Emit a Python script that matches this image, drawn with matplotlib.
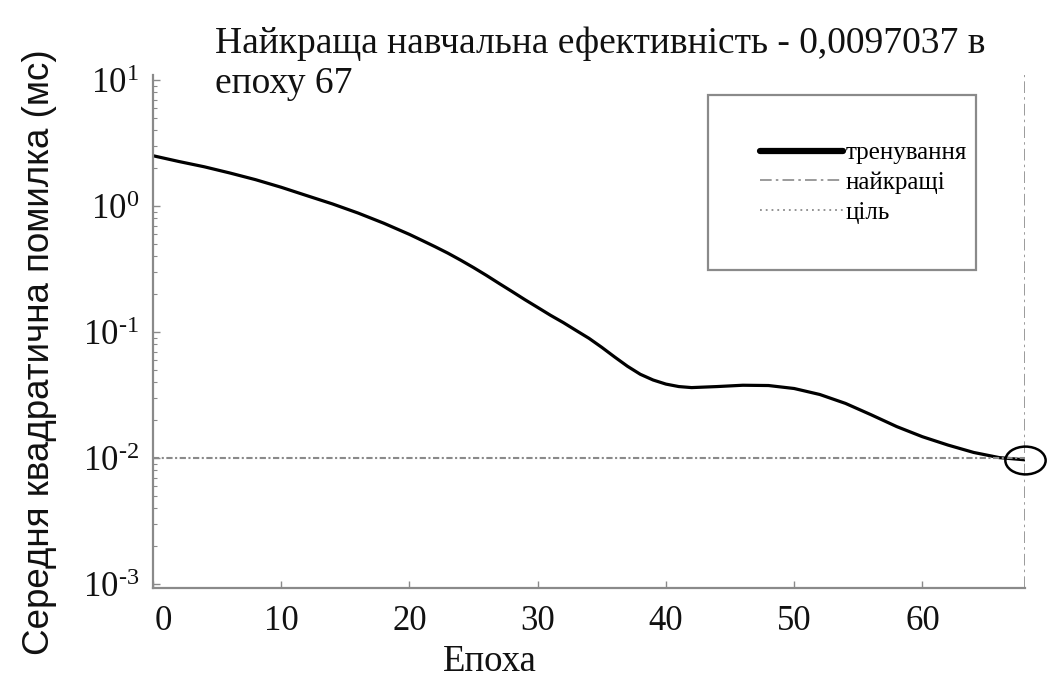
import matplotlib
matplotlib.use("Agg")
import matplotlib.pyplot as plt
from matplotlib.patches import Rectangle
from matplotlib.path import Path
from matplotlib.transforms import Affine2D, ScaledTranslation
from matplotlib.ticker import FixedLocator, FixedFormatter, LogLocator, NullFormatter

# ---- data ----
epochs = [0, 2, 4, 6, 8, 10, 12, 14, 16, 18, 20, 21, 22, 23, 24, 25, 26, 27,
          28, 29, 30, 31, 32, 33, 34, 35, 36, 37, 38, 39, 40, 41, 42, 44, 46,
          48, 50, 52, 54, 56, 58, 60, 62, 64, 66, 68]
train_mse = [2.51, 2.26, 2.05, 1.83, 1.62, 1.41, 1.21, 1.04, 0.88, 0.731,
             0.596, 0.533, 0.476, 0.423, 0.372, 0.325, 0.282, 0.243, 0.210,
             0.181, 0.157, 0.136, 0.119, 0.103, 0.0893, 0.0757, 0.0635,
             0.0536, 0.0463, 0.0417, 0.0387, 0.0370, 0.0363, 0.0370, 0.0379,
             0.0377, 0.0357, 0.0320, 0.0272, 0.0221, 0.0178, 0.0148, 0.0127,
             0.0111, 0.0101, 0.0097037]
goal = 0.01
best_epoch_pos = 68
best_value = 0.0097037
title_line1 = "Найкраща навчальна ефективність - 0,0097037 в"
title_line2 = "епоху 67"
x_ticks = [0, 10, 20, 30, 40, 50, 60]
y_ticks = [1e-3, 1e-2, 1e-1, 1e0, 1e1]
y_tick_labels = ["$\\mathdefault{10^{\u2010" + "3}}$", "$\\mathdefault{10^{\u2010" + "2}}$",
                 "$\\mathdefault{10^{\u2010" + "1}}$", r"$\mathdefault{10^{0}}$",
                 r"$\mathdefault{10^{1}}$"]
legend_labels = ["тренування", "найкращі", "ціль"]
xlabel = "Епоха"
ylabel = "Середня квадратична помилка (мс)"

plt.rcParams["font.family"] = ["Liberation Serif", "DejaVu Serif"]
plt.rcParams["mathtext.fontset"] = "custom"
plt.rcParams["mathtext.rm"] = "Liberation Serif"

W, H = 1049, 691
fig = plt.figure(figsize=(W / 100, H / 100), dpi=100)
ax = fig.add_axes([153 / W, 1 - 588 / H, (1025 - 153) / W, (588 - 75) / H])

gray = "#8a8a8a"
ln_train, = ax.plot(epochs, train_mse, color="black", lw=2.3, solid_capstyle="round",
                    solid_joinstyle="round", label=legend_labels[0])
ln_best = ax.axvline(best_epoch_pos, color=gray, lw=1.2, linestyle=(0, (7, 2.5, 1.5, 2.5)),
                     label=legend_labels[1])
ln_goal = ax.axhline(goal, color=gray, lw=1.5, linestyle=(0, (3, 1.2, 1, 1.2)),
                     label=legend_labels[2])

# ellipse marker at the best point
ell = Path.unit_circle().transformed(Affine2D().scale(1.45, 1.0))
ax.plot([best_epoch_pos], [best_value], marker=ell, markersize=29,
        markerfacecolor="none", markeredgecolor="black", markeredgewidth=1.8,
        linestyle="none", clip_on=False, zorder=5)

ax.set_yscale("log")
ax.set_xlim(0, 68)
ax.set_ylim(10 ** -3.03, 10 ** 1.04)

ax.yaxis.set_major_locator(FixedLocator(y_ticks))
ax.yaxis.set_major_formatter(FixedFormatter(y_tick_labels))
ax.yaxis.set_minor_locator(LogLocator(base=10, subs=range(2, 10), numticks=20))
ax.yaxis.set_minor_formatter(NullFormatter())
ax.set_xticks(x_ticks)

for side in ["top", "right"]:
    ax.spines[side].set_visible(False)
for side in ["left", "bottom"]:
    ax.spines[side].set_color(gray)
    ax.spines[side].set_linewidth(1.6)

ax.tick_params(axis="both", which="major", direction="in", length=5, width=1,
               color=gray, labelsize=25, labelcolor="#111111")
ax.tick_params(axis="y", which="minor", direction="in", length=3, width=0.8, color=gray)
ax.tick_params(axis="x", pad=12)
ax.tick_params(axis="y", pad=10)

# shift the "0" tick label slightly to the right, as in the original
first = ax.get_xticklabels()[0]
first.set_transform(first.get_transform() + ScaledTranslation(10 / 100, 0, fig.dpi_scale_trans))

# titles / labels
fig.text(215 / W, 1 - 53 / H, title_line1, fontsize=27, ha="left", va="baseline",
         color="#111111")
fig.text(215 / W, 1 - 93 / H, title_line2, fontsize=27, ha="left", va="baseline",
         color="#111111")
fig.text(490 / W, 1 - 671 / H, xlabel, fontsize=26.5, ha="center", va="baseline",
         color="#111111")
fig.text(40 / W, 1 - 352 / H, ylabel, fontsize=26.5, rotation=90, ha="center",
         va="center", family=["Liberation Sans", "DejaVu Sans"], color="#111111")

# legend frame and entries
fig.patches.append(Rectangle((708 / W, 1 - 270 / H), (976 - 708) / W, (270 - 95) / H,
                             transform=fig.transFigure, fill=False, edgecolor=gray,
                             linewidth=1.6))
leg = ax.legend(handles=[ln_train, ln_best, ln_goal], labels=legend_labels,
                loc="upper left", bbox_to_anchor=(760 / W, 1 - 142 / H),
                bbox_transform=fig.transFigure, frameon=False, fontsize=18,
                handlelength=3.3, handletextpad=0.12, labelspacing=0.28,
                borderpad=0, borderaxespad=0)
lines = leg.get_lines()
lines[0].set_linewidth(4.5)
lines[2].set_linestyle((0, (1, 2.2)))
lines[2].set_linewidth(1.3)

fig.savefig("out.png", dpi=100, facecolor="white")
